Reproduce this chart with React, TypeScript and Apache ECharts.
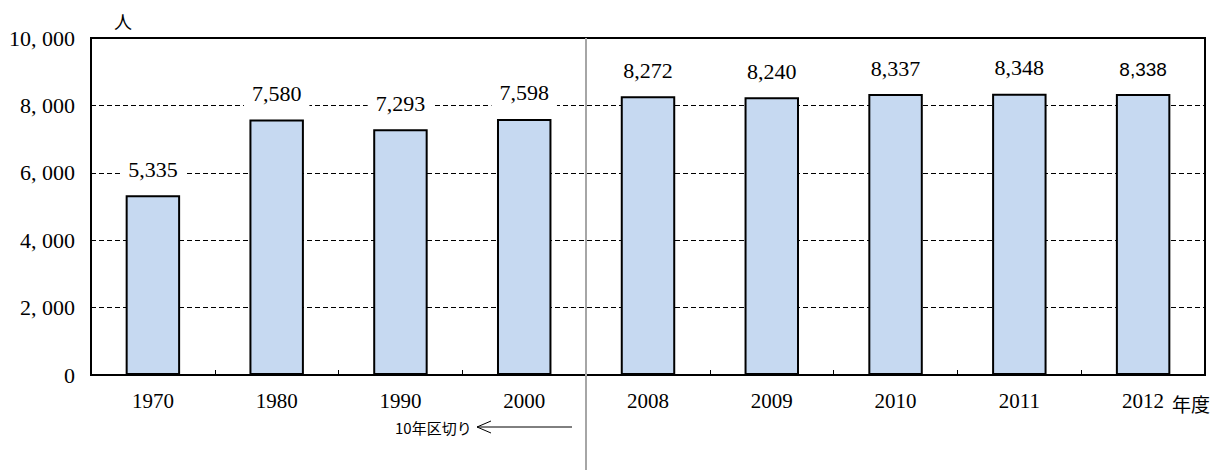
import React, { useEffect, useRef } from "react";
import * as echarts from "echarts";

const categories = ["1970", "1980", "1990", "2000", "2008", "2009", "2010", "2011", "2012"];
const values = [5335, 7580, 7293, 7598, 8272, 8240, 8337, 8348, 8338];
const yTicks = { min: 0, max: 10000, interval: 2000 };
const unitLabel = "人";
const xUnitLabel = "年度";
const dividerNote = "10年区切り";

const SERIF = "'Liberation Serif', 'Noto Sans CJK JP', serif";
const SANS = "'Liberation Sans', Arial, sans-serif";
const CJK = "'Noto Sans CJK JP', sans-serif";

export default function App() {
  const ref = useRef<HTMLDivElement>(null);

  useEffect(() => {
    if (!ref.current) return;
    const chart = echarts.init(ref.current, null, { renderer: "svg" });
    const fmt = (v: number) => v.toLocaleString("en-US");
    const data = values.map((v, i) => {
      const last = i === values.length - 1;
      return {
        value: v,
        label: last ? { fontFamily: SANS, fontSize: 19 } : undefined,
      };
    });
    chart.setOption({
      animation: false,
      grid: {
        left: 91,
        right: 13,
        top: 38,
        bottom: 95,
        show: true,
        borderColor: "#000",
        borderWidth: 2,
        backgroundColor: "transparent",
      },
      xAxis: {
        type: "category",
        data: categories,
        axisLine: { show: true, lineStyle: { color: "#000", width: 2 } },
        axisTick: { show: true, inside: true, length: 5, lineStyle: { color: "#000", width: 1 } },
        axisLabel: {
          color: "#000",
          fontFamily: SERIF,
          fontSize: 21,
          margin: 15,
        },
      },
      yAxis: {
        type: "value",
        min: yTicks.min,
        max: yTicks.max,
        interval: yTicks.interval,
        axisLine: { show: true, lineStyle: { color: "#000", width: 2 } },
        axisTick: { show: false },
        splitLine: {
          show: true,
          lineStyle: { color: "#000", width: 1, type: [5, 3] },
        },
        axisLabel: {
          color: "#000",
          fontFamily: SERIF,
          fontSize: 22,
          margin: 16,
          formatter: (v: number) => fmt(v).replace(",", ", "),
        },
      },
      series: [
        {
          type: "bar",
          data,
          barWidth: "44%",
          itemStyle: { color: "#c6d9f1", borderColor: "#000", borderWidth: 2 },
          label: {
            show: true,
            position: "top",
            distance: 13,
            color: "#000",
            fontFamily: SERIF,
            fontSize: 22,
            backgroundColor: "#fff",
            padding: [2, 8],
            formatter: (p: any) => fmt(p.value),
          },
          z: 3,
        },
      ],
    });

    const p3 = chart.convertToPixel({ xAxisIndex: 0 }, 3) as number;
    const p4 = chart.convertToPixel({ xAxisIndex: 0 }, 4) as number;
    const p8 = chart.convertToPixel({ xAxisIndex: 0 }, 8) as number;
    const divX = Math.round((p3 + p4) / 2);
    const topY = chart.convertToPixel({ yAxisIndex: 0 }, yTicks.max) as number;

    chart.setOption({
      graphic: [
        {
          type: "line",
          shape: { x1: divX, y1: topY, x2: divX, y2: 470 },
          style: { stroke: "#a6a6a6", lineWidth: 2 },
          z: 10,
        },
        {
          type: "text",
          x: divX - 191,
          y: 427,
          style: {
            text: dividerNote,
            font: `15px ${CJK}`,
            fill: "#000",
            verticalAlign: "middle",
          },
        },
        {
          type: "line",
          shape: { x1: divX - 109, y1: 427, x2: divX - 14, y2: 427 },
          style: { stroke: "#000", lineWidth: 1 },
        },
        {
          type: "polyline",
          shape: { points: [[divX - 95, 421], [divX - 109, 427], [divX - 95, 433]] },
          style: { stroke: "#000", lineWidth: 1, fill: null },
        },
        {
          type: "text",
          x: 114,
          y: 21,
          style: { text: unitLabel, font: `18px ${CJK}`, fill: "#000", verticalAlign: "middle" },
        },
        {
          type: "text",
          x: p8 + 29,
          y: 403,
          style: { text: xUnitLabel, font: `19px ${CJK}`, fill: "#000", verticalAlign: "middle" },
        },
      ],
    });

    return () => chart.dispose();
  }, []);

  return (
    <div
      ref={ref}
      style={{ position: "absolute", left: 0, top: 0, width: 1218, height: 470 }}
    />
  );
}
